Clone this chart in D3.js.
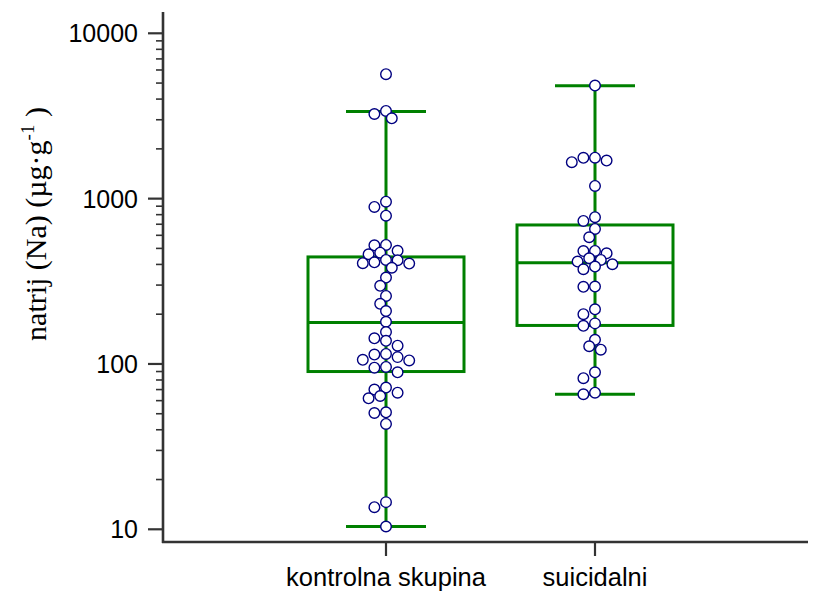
<!DOCTYPE html>
<html>
<head>
<meta charset="utf-8">
<script src="https://cdn.jsdelivr.net/npm/d3@7"></script>
<style>
    body { margin: 0; background: #fff; }
</style>
</head>
<body>
<div id="chart"></div>
<script>
// Categories (x axis)
var categories = ["kontrolna skupina", "suicidalni"];

var kontrolnaValues = [5660, 3390, 3250, 3060, 959, 891, 789, 525, 522, 484, 471, 461,
    426, 424, 412, 407, 405, 382, 333, 297, 258, 231, 209, 180, 156, 143, 138, 129,
    115, 114, 110, 106, 105, 96, 95, 89, 72, 70, 67, 64, 62, 51, 50.5, 43.4, 14.6, 13.6, 10.4];
var suicidalniValues = [4830, 1770, 1765, 1698, 1661, 1193, 772, 733, 656, 584, 483, 482,
    467, 436, 426, 416, 401, 388, 374, 294, 293, 214, 200, 176, 170, 140, 128, 122,
    89, 82, 67, 65.6];

// Box statistics per group: [lower whisker, Q1, median, Q3, upper whisker]
var kontrolnaBox = [10.4, 90, 178, 444, 3360];
var suicidalniBox = [65.6, 171, 410, 693, 4810];

// Tick labels of the y axis
var yTickValues = [10, 100, 1000, 10000];

function init(){
    var w = 822;
    var h = 592;
    var r = 5.3;        // point radius
    var step = 5.8;     // swarm column spacing
    var minDist = 8.6;  // allowed overlap between dots

    var groups = [
        {name: categories[0], values: kontrolnaValues, box: kontrolnaBox},
        {name: categories[1], values: suicidalniValues, box: suicidalniBox}
    ];

    var svg = d3.select("#chart")
                .append("svg")
                .attr("width", w)
                .attr("height", h);

    // Scales
    var yScale = d3.scaleLog()
                    .domain([10, 10000])
                    .range([529.3, 33.3]);

    var xScale = d3.scalePoint()
                    .domain(categories)
                    .range([386, 595]);

    var axisColor = "#333";

    // Y axis: major ticks with labels, minor ticks without
    var minorTicks = yScale.ticks().filter(function(d){ return yTickValues.indexOf(d) < 0; });

    var yAxis = svg.append("g")
        .attr("transform", "translate(163,0)");

    yAxis.selectAll(".minor")
        .data(minorTicks)
        .enter()
        .append("line")
        .attr("class", "minor")
        .attr("x1", -7).attr("x2", 0)
        .attr("y1", function(d){ return yScale(d); })
        .attr("y2", function(d){ return yScale(d); })
        .attr("stroke", axisColor)
        .attr("stroke-width", 1.6);

    yAxis.selectAll(".major")
        .data(yTickValues)
        .enter()
        .append("line")
        .attr("class", "major")
        .attr("x1", -15).attr("x2", 0)
        .attr("y1", function(d){ return yScale(d); })
        .attr("y2", function(d){ return yScale(d); })
        .attr("stroke", axisColor)
        .attr("stroke-width", 2.2);

    yAxis.selectAll(".ylabel")
        .data(yTickValues)
        .enter()
        .append("text")
        .attr("class", "ylabel")
        .attr("x", -25)
        .attr("y", function(d){ return yScale(d); })
        .attr("dy", "0.36em")
        .attr("text-anchor", "end")
        .attr("font-family", "Liberation Sans, Arial, sans-serif")
        .attr("font-size", "25px")
        .attr("fill", "#000")
        .text(function(d){ return d; });

    yAxis.append("line")
        .attr("x1", 0).attr("x2", 0)
        .attr("y1", 12).attr("y2", 543)
        .attr("stroke", axisColor)
        .attr("stroke-width", 2.6);

    // X axis
    var xAxis = svg.append("g");

    xAxis.append("line")
        .attr("x1", 162).attr("x2", 808)
        .attr("y1", 542).attr("y2", 542)
        .attr("stroke", axisColor)
        .attr("stroke-width", 2.6);

    xAxis.selectAll(".xtick")
        .data(categories)
        .enter()
        .append("line")
        .attr("class", "xtick")
        .attr("x1", function(d){ return xScale(d); })
        .attr("x2", function(d){ return xScale(d); })
        .attr("y1", 542).attr("y2", 556)
        .attr("stroke", axisColor)
        .attr("stroke-width", 2.2);

    xAxis.selectAll(".xlabel")
        .data(categories)
        .enter()
        .append("text")
        .attr("class", "xlabel")
        .attr("x", function(d){ return xScale(d); })
        .attr("y", 586)
        .attr("text-anchor", "middle")
        .attr("font-family", "Liberation Sans, Arial, sans-serif")
        .attr("font-size", "25.5px")
        .attr("fill", "#000")
        .text(function(d){ return d; });

    // Y axis title (serif, with superscript)
    var title = svg.append("text")
        .attr("transform", "translate(46,224) rotate(-90)")
        .attr("text-anchor", "middle")
        .attr("font-family", "Liberation Serif, Times New Roman, serif")
        .attr("font-size", "30px")
        .attr("fill", "#000");
    title.append("tspan").text("natrij (Na) (\u00b5g\u00b7g");
    title.append("tspan")
        .attr("font-size", "19px")
        .attr("dy", "-12")
        .text("-1");
    title.append("tspan")
        .attr("dy", "12")
        .text(" )");

    // Boxes
    var boxColor = "#008000";
    var boxHalf = 78;
    var capHalf = 40;

    var boxes = svg.selectAll(".box")
        .data(groups)
        .enter()
        .append("g")
        .attr("class", "box")
        .attr("stroke", boxColor)
        .attr("stroke-width", 3)
        .attr("fill", "none");

    // whisker stem
    boxes.append("line")
        .attr("x1", function(d){ return xScale(d.name); })
        .attr("x2", function(d){ return xScale(d.name); })
        .attr("y1", function(d){ return yScale(d.box[0]); })
        .attr("y2", function(d){ return yScale(d.box[4]); });

    // whisker caps
    [0, 4].forEach(function(k){
        boxes.append("line")
            .attr("x1", function(d){ return xScale(d.name) - capHalf; })
            .attr("x2", function(d){ return xScale(d.name) + capHalf; })
            .attr("y1", function(d){ return yScale(d.box[k]); })
            .attr("y2", function(d){ return yScale(d.box[k]); });
    });

    // box body
    boxes.append("rect")
        .attr("x", function(d){ return xScale(d.name) - boxHalf; })
        .attr("width", boxHalf * 2)
        .attr("y", function(d){ return yScale(d.box[3]); })
        .attr("height", function(d){ return yScale(d.box[1]) - yScale(d.box[3]); })
        .attr("fill", "none");

    // median
    boxes.append("line")
        .attr("x1", function(d){ return xScale(d.name) - boxHalf; })
        .attr("x2", function(d){ return xScale(d.name) + boxHalf; })
        .attr("y1", function(d){ return yScale(d.box[2]); })
        .attr("y2", function(d){ return yScale(d.box[2]); });

    // Swarm layout: each dot goes to the nearest free column slot
    function swarm(group){
        var placed = [];
        var sorted = group.values.slice().sort(d3.descending);
        sorted.forEach(function(v){
            var y = yScale(v);
            var k = 0, offsets = [0];
            for (k = 1; k < 12; k++) { offsets.push(-k, k); }
            for (var i = 0; i < offsets.length; i++) {
                var x = offsets[i] * step;
                var free = placed.every(function(p){
                    var dx = p.dx - x, dy = p.y - y;
                    return dx * dx + dy * dy >= minDist * minDist;
                });
                if (free) {
                    placed.push({dx: x, y: y, v: v, name: group.name});
                    break;
                }
            }
        });
        return placed;
    }

    var dots = [];
    groups.forEach(function(g){ dots = dots.concat(swarm(g)); });

    svg.selectAll(".dot")
        .data(dots)
        .enter()
        .append("circle")
        .attr("class", "dot")
        .attr("cx", function(d){ return xScale(d.name) + d.dx; })
        .attr("cy", function(d){ return d.y; })
        .attr("r", r)
        .attr("fill", "#fff")
        .attr("stroke", "#000080")
        .attr("stroke-width", 1.4);
}
window.onload = init;
</script>
</body>
</html>
